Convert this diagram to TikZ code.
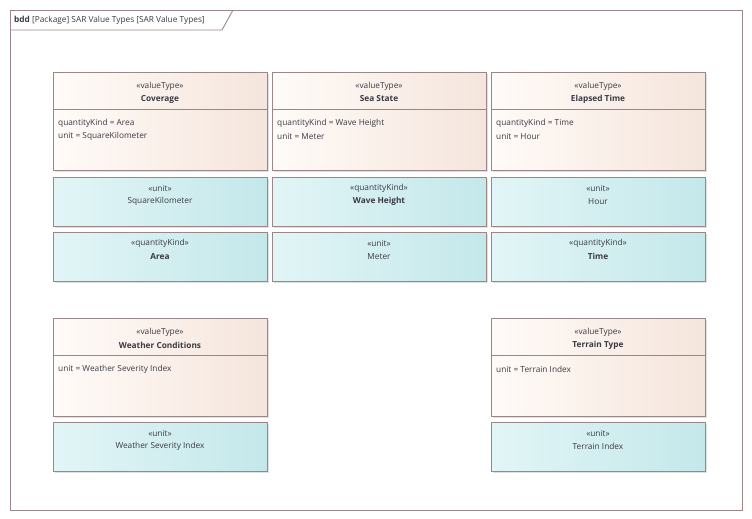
\documentclass[tikz,border=0pt]{standalone}
\usepackage{fontspec}
\setmainfont{Open Sans}
\usetikzlibrary{shadows}
\definecolor{bord}{HTML}{9A8888}
\definecolor{vtl}{HTML}{FFFBF8}
\definecolor{vtr}{HTML}{F5E5DC}
\definecolor{ql}{HTML}{E2F5F6}
\definecolor{qr}{HTML}{C4E8EA}
\definecolor{txt}{HTML}{3A3A44}
\tikzset{
  x=1pt, y=-1pt,
  shad/.style={drop shadow={shadow xshift=2pt, shadow yshift=-2pt, fill=black!12, opacity=1}},
  vtbox/.style={shad, draw=bord, line width=0.9pt, left color=vtl, right color=vtr, minimum width=214pt, minimum height=98pt, anchor=north west, inner sep=0pt},
  qbox/.style={shad, draw=bord, line width=0.9pt, left color=ql, right color=qr, minimum width=214pt, minimum height=49pt, anchor=north west, inner sep=0pt},
  stereo/.style={font=\fontsize{8.3}{10}\selectfont, text=txt, inner sep=0pt},
  nm/.style={font=\fontsize{8.3}{10}\selectfont\bfseries, text=txt, inner sep=0pt},
  plain/.style={font=\fontsize{8.3}{10}\selectfont, text=txt, inner sep=0pt},
  attr/.style={font=\fontsize{8.3}{10}\selectfont, text=txt, inner sep=0pt, anchor=west},
  divl/.style={draw=bord, line width=0.9pt}
}
\newcommand{\vtype}[6]{% name, x, y, title, attr1, attr2
  \node[vtbox] (#1) at (#2,#3) {};
  \node[stereo] (#1s) at (#2+107,#3+14) {«valueType»};
  \node[nm] (#1n) at (#2+107,#3+27) {#4};
  \draw[divl] (#2,#3+37) -- (#2+214,#3+37);
  \node[attr] (#1a) at (#2+5,#3+51.5) {#5};
  \node[attr] (#1b) at (#2+5,#3+64.5) {#6};
}
\newcommand{\qtype}[6]{% name, x, y, stereo, title, bold?
  \node[qbox] (#1) at (#2,#3) {};
  \node[stereo] (#1s) at (#2+107,#3+11.5) {«#4»};
  \node[#6] (#1n) at (#2+107,#3+24.5) {#5};
}
\begin{document}
\begin{tikzpicture}
\useasboundingbox (0,0) rectangle (752,519);
\fill[white] (0,0) rectangle (752,519);
\node[draw=bord, line width=1.2pt, minimum width=732pt, minimum height=500pt, anchor=north west, inner sep=0pt] (frame) at (10,10) {};
\draw[bord, line width=0.9pt] (10,30) -- (222,30) -- (233,10);
\node[anchor=west, inner sep=0pt, font=\fontsize{8.3}{10}\selectfont, text=txt] (title) at (14,20) {\textbf{bdd} [Package] SAR Value Types [SAR Value Types]};

\vtype{cov}{53}{72}{Coverage}{quantityKind = Area}{unit = SquareKilometer}
\vtype{sea}{272}{72}{Sea State}{quantityKind = Wave Height}{unit = Meter}
\vtype{ela}{491}{72}{Elapsed Time}{quantityKind = Time}{unit = Hour}

\qtype{sqk}{53}{177}{unit}{SquareKilometer}{plain}
\qtype{wvh}{272}{177}{quantityKind}{Wave Height}{nm}
\qtype{hr}{491}{177}{unit}{Hour}{plain}

\qtype{ar}{53}{232}{quantityKind}{Area}{nm}
\qtype{mt}{272}{232}{unit}{Meter}{plain}
\qtype{tm}{491}{232}{quantityKind}{Time}{nm}

\vtype{wc}{53}{318}{Weather Conditions}{unit = Weather Severity Index}{}
\vtype{tt}{491}{318}{Terrain Type}{unit = Terrain Index}{}

\qtype{wsi}{53}{422}{unit}{Weather Severity Index}{plain}
\qtype{ti}{491}{422}{unit}{Terrain Index}{plain}
\end{tikzpicture}
\end{document}
